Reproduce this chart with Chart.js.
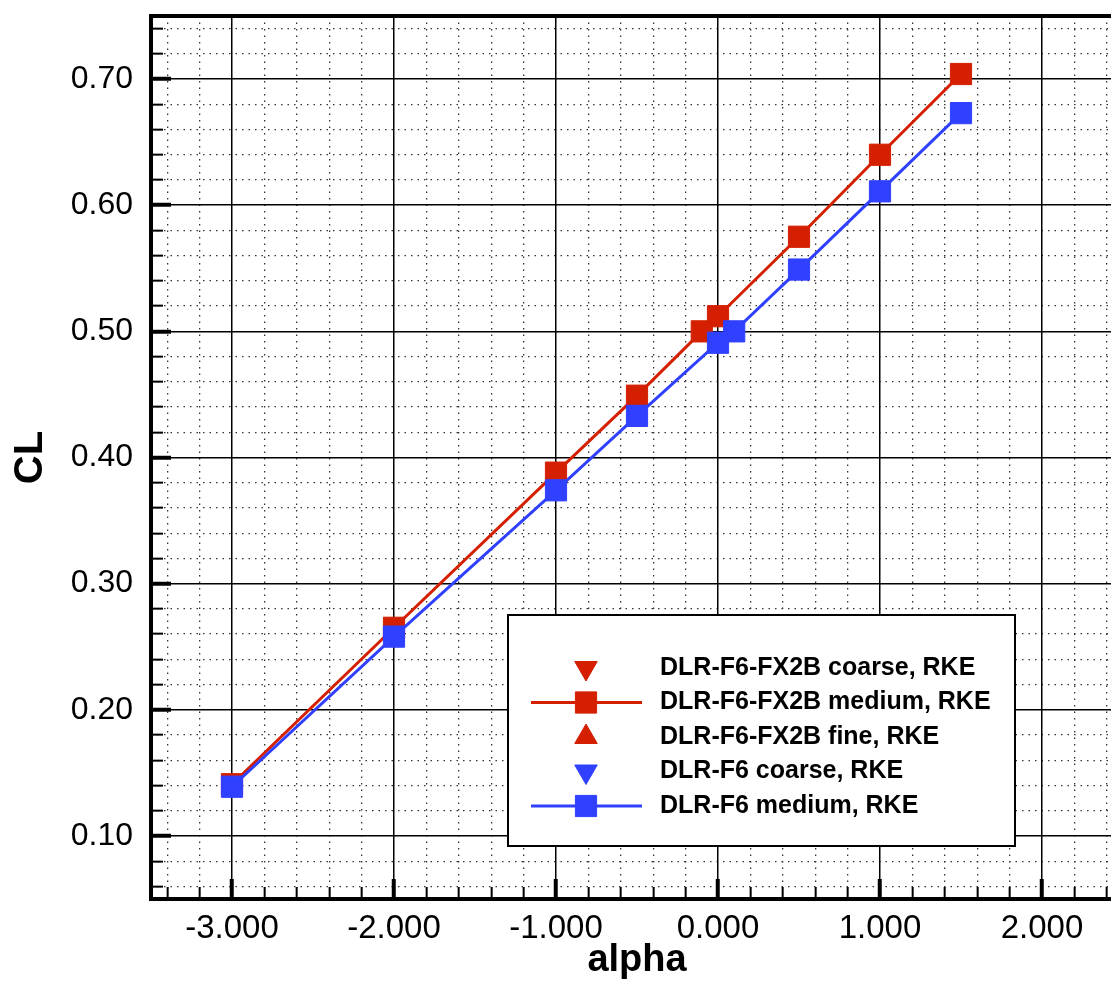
<!DOCTYPE html>
<html>
<head>
<meta charset="utf-8">
<script src="https://cdn.jsdelivr.net/npm/chart.js@4.4.0/dist/chart.umd.min.js"></script>
<style>
    html, body { margin: 0; padding: 0; background: #fff; overflow: hidden; }
    canvas { display: block; }
</style>
</head>
<body>
<canvas id="clChart" width="1140" height="983"></canvas>
<script>
// ===== DATA =====
const alphaFx2bMedium = [-3.0, -2.0, -1.0, -0.5, -0.1, 0.0, 0.5, 1.0, 1.5];
const clFx2bMedium    = [0.141, 0.265, 0.388, 0.449, 0.500, 0.512, 0.575, 0.640, 0.704];
const alphaF6Medium   = [-3.0, -2.0, -1.0, -0.5, 0.0, 0.1, 0.5, 1.0, 1.5];
const clF6Medium      = [0.139, 0.258, 0.374, 0.433, 0.491, 0.500, 0.549, 0.611, 0.673];
// coarse / fine runs only show up in the legend
const alphaFx2bCoarse = [], clFx2bCoarse = [];
const alphaFx2bFine = [], clFx2bFine = [];
const alphaF6Coarse = [], clF6Coarse = [];

const alphaTicks = [-3, -2, -1, 0, 1, 2];
const clTicks = [0.10, 0.20, 0.30, 0.40, 0.50, 0.60, 0.70];
const seriesLabels = [
    'DLR-F6-FX2B coarse, RKE',
    'DLR-F6-FX2B medium, RKE',
    'DLR-F6-FX2B fine, RKE',
    'DLR-F6 coarse, RKE',
    'DLR-F6 medium, RKE'
];

const RED = '#d42000';
const BLUE = '#3040ff';
const FONT = '"Liberation Sans", Arial, Helvetica, sans-serif';

function toPoints(xs, ys) {
    return xs.map((x, i) => ({ x: x, y: ys[i] }));
}

// minor tick values between the major ones (5 per major step)
function minorTicks(min, max, step) {
    const out = [];
    for (let k = Math.ceil(min / step); k <= Math.floor(max / step); k++) {
        if (k % 5 === 0) continue;
        out.push(+(k * step).toFixed(4));
    }
    return out;
}
const alphaMinor = minorTicks(-3.5, 2.5, 0.2);
const clMinor = minorTicks(0.05, 0.75, 0.02);

// fixed box sizes, no extra label padding around the plot
function fixWidth(w) {
    return s => { s.width = w; s.paddingTop = 0; s.paddingBottom = 0; s.paddingLeft = 0; s.paddingRight = 0; };
}
function fixHeight(h) {
    return s => { s.height = h; s.paddingTop = 0; s.paddingBottom = 0; s.paddingLeft = 0; s.paddingRight = 0; };
}

// ===== LEGEND (drawn inside the plot, tecplot style) =====
const legendBox = {
    id: 'legendBox',
    afterDraw(chart) {
        const ctx = chart.ctx;
        ctx.save();
        ctx.fillStyle = '#fff';
        ctx.fillRect(508, 615, 507, 231);
        ctx.lineWidth = 2;
        ctx.strokeStyle = '#000';
        ctx.strokeRect(508, 615, 507, 231);

        chart.data.datasets.forEach((ds, i) => {
            const y = 668 + i * 34.5;
            if (ds.showLine) {
                ctx.beginPath();
                ctx.lineWidth = ds.borderWidth;
                ctx.strokeStyle = ds.borderColor;
                ctx.moveTo(531, y);
                ctx.lineTo(642, y);
                ctx.stroke();
            }
            ctx.fillStyle = ds.pointBackgroundColor;
            ctx.strokeStyle = ds.pointBorderColor;
            ctx.lineWidth = 1;
            Chart.helpers.drawPoint(ctx, {
                pointStyle: ds.pointStyle,
                rotation: ds.pointRotation || 0,
                radius: ds.pointRadius,
                borderWidth: 1
            }, 586, y);

            ctx.fillStyle = '#000';
            ctx.font = 'bold 25px ' + FONT;
            ctx.textBaseline = 'middle';
            ctx.textAlign = 'left';
            ctx.fillText(ds.label, 660, y);
        });
        ctx.restore();
    }
};

function series(label, xs, ys, color, style, rotation, radius, line, order) {
    return {
        label: label,
        data: toPoints(xs, ys),
        showLine: line,
        borderColor: color,
        borderWidth: 3,
        backgroundColor: color,
        pointBackgroundColor: color,
        pointBorderColor: color,
        pointBorderWidth: 1,
        pointStyle: style,
        pointRotation: rotation,
        pointRadius: radius,
        pointHoverRadius: radius,
        tension: 0,
        fill: false,
        order: order
    };
}

const ctx = document.getElementById('clChart').getContext('2d');
new Chart(ctx, {
    type: 'scatter',
    data: {
        datasets: [
            series(seriesLabels[0], alphaFx2bCoarse, clFx2bCoarse, RED, 'triangle', 180, 13, false, 4),
            series(seriesLabels[1], alphaFx2bMedium, clFx2bMedium, RED, 'rect', 0, 15, true, 3),
            series(seriesLabels[2], alphaFx2bFine, clFx2bFine, RED, 'triangle', 0, 13, false, 2),
            series(seriesLabels[3], alphaF6Coarse, clF6Coarse, BLUE, 'triangle', 180, 13, false, 1),
            series(seriesLabels[4], alphaF6Medium, clF6Medium, BLUE, 'rect', 0, 15, true, 0)
        ]
    },
    options: {
        responsive: false,
        animation: false,
        events: [],
        layout: { padding: { top: 12, right: 17, left: 0, bottom: 0 } },
        plugins: {
            legend: { display: false },
            tooltip: { enabled: false }
        },
        scales: {
            xMinor: {
                type: 'linear', position: 'bottom', weight: 0,
                min: -3.5, max: 2.5,
                afterBuildTicks: s => { s.ticks = alphaMinor.map(v => ({ value: v })); },
                afterFit: fixHeight(0),
                ticks: { display: false },
                grid: { color: '#333', lineWidth: 1.3, tickLength: -12, tickWidth: 2, tickColor: '#000', tickBorderDash: [] },
                border: { display: false, dash: [1.5, 5] }
            },
            yMinor: {
                type: 'linear', position: 'left', weight: 0,
                min: 0.05, max: 0.75,
                afterBuildTicks: s => { s.ticks = clMinor.map(v => ({ value: v })); },
                afterFit: fixWidth(0),
                ticks: { display: false },
                grid: { color: '#333', lineWidth: 1.3, tickLength: -12, tickWidth: 2, tickColor: '#000', tickBorderDash: [] },
                border: { display: false, dash: [1.5, 5] }
            },
            x: {
                type: 'linear', position: 'bottom', weight: 1,
                min: -3.5, max: 2.5,
                afterBuildTicks: s => { s.ticks = alphaTicks.map(v => ({ value: v })); },
                afterFit: fixHeight(84),
                ticks: {
                    autoSkip: false, maxRotation: 0, padding: 30,
                    color: '#000', font: { size: 33, family: FONT },
                    callback: v => v.toFixed(3)
                },
                grid: { color: '#000', lineWidth: 1.5, tickLength: -20, tickWidth: 4, tickColor: '#000' },
                border: { display: true, width: 4, color: '#000' },
                title: {
                    display: true, text: 'alpha', color: '#000',
                    font: { size: 38, weight: 'bold', family: FONT },
                    padding: { top: 0, bottom: 0 }
                }
            },
            y: {
                type: 'linear', position: 'left', weight: 1,
                min: 0.05, max: 0.75,
                afterBuildTicks: s => { s.ticks = clTicks.map(v => ({ value: v })); },
                afterFit: fixWidth(151),
                ticks: {
                    autoSkip: false, padding: 38,
                    color: '#000', font: { size: 32, family: FONT },
                    callback: v => v.toFixed(2)
                },
                grid: { color: '#000', lineWidth: 1.5, tickLength: -20, tickWidth: 4, tickColor: '#000' },
                border: { display: true, width: 4, color: '#000' },
                title: {
                    display: true, text: 'CL', color: '#000',
                    font: { size: 40, weight: 'bold', family: FONT },
                    padding: { top: 7, bottom: 0 }
                }
            },
            xTop: {
                type: 'linear', position: 'top',
                min: -3.5, max: 2.5,
                afterFit: fixHeight(0),
                ticks: { display: false },
                grid: { drawOnChartArea: false, drawTicks: false },
                border: { display: true, width: 4, color: '#000' }
            }
        }
    },
    plugins: [legendBox]
});
</script>
</body>
</html>
